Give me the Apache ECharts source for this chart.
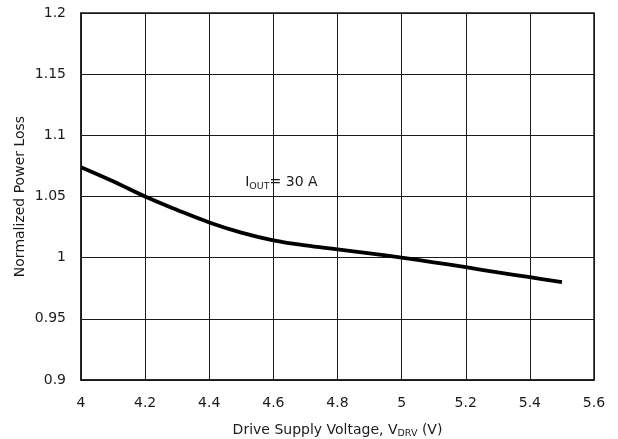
<!DOCTYPE html>
<html><head><meta charset="utf-8">
<script src="https://cdn.jsdelivr.net/npm/echarts@6/dist/echarts.min.js"></script>
<style>html,body{margin:0;padding:0;background:#fff}#c{width:618px;height:439px}</style>
</head><body><div id="c"></div>
<script>
const xValues = [4.0, 4.1, 4.2, 4.3, 4.4, 4.5, 4.6, 4.7, 4.8, 4.9, 5.0, 5.1, 5.2, 5.3, 5.4, 5.5];
const lossValues = [1.074, 1.0625, 1.050, 1.039, 1.0288, 1.0205, 1.0142, 1.0100, 1.0068, 1.0035, 1.000, 0.9962, 0.9922, 0.988, 0.984, 0.980];
const xTicks = [4, 4.2, 4.4, 4.6, 4.8, 5, 5.2, 5.4, 5.6];
const yTicks = [0.9, 0.95, 1, 1.05, 1.1, 1.15, 1.2];
const annotation = { x: 4.625, y: 1.0615 };

const font = '"DejaVu Sans", sans-serif';
const ink = '#1a1a1a';
const chart = echarts.init(document.getElementById('c'), null, {renderer: 'canvas'});
chart.setOption({
  animation: false,
  backgroundColor: '#fff',
  grid: { left: 81, right: 24, top: 13, bottom: 59, containLabel: false, outerBoundsMode: 'none' },
  xAxis: {
    type: 'value', min: xTicks[0], max: xTicks[xTicks.length - 1], interval: 0.2,
    name: '{n|Drive Supply Voltage, V}{s|DRV}{n| (V)}',
    nameLocation: 'middle', nameGap: 41, nameMoveOverlap: false,
    nameTextStyle: {
      rich: {
        n: { fontFamily: font, fontSize: 14, color: ink, lineHeight: 18, verticalAlign: 'middle' },
        s: { fontFamily: font, fontSize: 9.5, color: ink, lineHeight: 11, verticalAlign: 'bottom' }
      }
    },
    axisLine: { show: true, lineStyle: { color: ink, width: 1.5 } },
    axisTick: { show: false },
    axisLabel: { fontFamily: font, fontSize: 14, color: ink, margin: 16, formatter: v => String(+v.toFixed(1)) },
    splitLine: { show: true, lineStyle: { color: ink, width: 1 } }
  },
  yAxis: {
    type: 'value', min: yTicks[0], max: yTicks[yTicks.length - 1], interval: 0.05,
    name: 'Normalized Power Loss', nameLocation: 'middle', nameGap: 54, nameMoveOverlap: false,
    nameTextStyle: { fontFamily: font, fontSize: 14, color: ink },
    axisLine: { show: true, lineStyle: { color: ink, width: 1.5 } },
    axisTick: { show: false },
    axisLabel: { fontFamily: font, fontSize: 14, color: ink, margin: 15, formatter: v => String(+v.toFixed(2)) },
    splitLine: { show: true, lineStyle: { color: ink, width: 1 } }
  },
  graphic: [{
    type: 'rect', shape: { x: 81, y: 13, width: 513, height: 367 },
    style: { fill: 'none', stroke: ink, lineWidth: 1.5 }, silent: true, z: 10
  }],
  series: [{
    type: 'line', smooth: 0.4, symbol: 'none',
    data: xValues.map((x, i) => [x, lossValues[i]]),
    lineStyle: { color: '#000', width: 3.8 },
    markPoint: {
      symbol: 'circle', symbolSize: 0,
      data: [{ coord: [annotation.x, annotation.y] }],
      label: {
        show: true, position: 'inside',
        formatter: '{n|I}{s|OUT}{n|= 30 A}',
        rich: {
          n: { fontFamily: font, fontSize: 14, color: ink, lineHeight: 18, verticalAlign: 'middle' },
          s: { fontFamily: font, fontSize: 9.5, color: ink, lineHeight: 11, verticalAlign: 'bottom' }
        }
      }
    }
  }]
});
</script></body></html>
